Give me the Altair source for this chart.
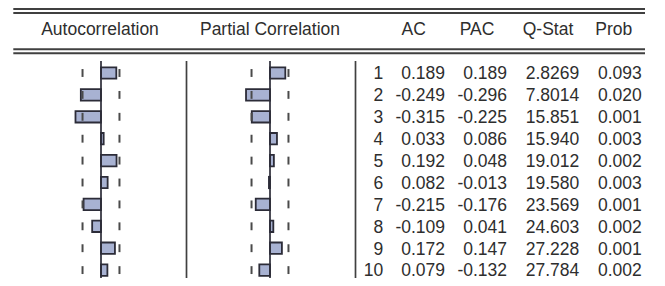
import altair as alt
import pandas as pd

# ---------------- data ----------------
lags = [1, 2, 3, 4, 5, 6, 7, 8, 9, 10]
ac = [0.189, -0.249, -0.315, 0.033, 0.192, 0.082, -0.215, -0.109, 0.172, 0.079]
pac = [0.189, -0.296, -0.225, 0.086, 0.048, -0.013, -0.176, 0.041, 0.147, -0.132]
qstat = [2.8269, 7.8014, 15.851, 15.940, 19.012, 19.580, 23.569, 24.603, 27.228, 27.784]
prob = [0.093, 0.020, 0.001, 0.003, 0.002, 0.003, 0.001, 0.002, 0.001, 0.002]
conf_bound = 0.228  # +/- 2 standard-error band
headers = ["Autocorrelation", "Partial Correlation", "AC", "PAC", "Q-Stat", "Prob"]

# ---------------- layout / style ----------------
W, H = 649, 270
PX_PER_UNIT = 81.0
ACF_ZERO = 93.0
PACF_ZERO = 262.0
ROW1_Y = 65.0
ROW_STEP = 21.9
BAR_HALF = 0.26
DASH_HALF = 0.18
FONT = "Liberation Sans"
FSIZE = 17.5
TXT = "#2e2e2e"
LINE = "#404040"
BAR_FILL = "#A8B2D2"
BAR_STROKE = "#2c2c38"

header_x = [92, 262, 405.7, 469, 540, 605.8]
header_y = 27
col_right_x = [375.3, 437, 499, 571.3, 633.7]
hlines_y = [1, 5, 41.3, 45.3]
vsep_x = [178.5, 347.5]
vline_top, vline_bottom = 53, 270

y_scale = alt.Scale(
    domain=[1 - ROW1_Y / ROW_STEP, 1 + (H - ROW1_Y) / ROW_STEP],
    reverse=True, nice=False, zero=False,
)


def x_scale(zero_px):
    return alt.Scale(domain=[-zero_px / PX_PER_UNIT, (W - zero_px) / PX_PER_UNIT],
                     nice=False, zero=False)


def fmt_q(q):
    d = len(str(int(q)))
    return f"{q:.{5 - d}f}"


dummy = pd.DataFrame({"a": [0]})
layers = []

# horizontal double rules
for yy in hlines_y:
    layers.append(
        alt.Chart(dummy).mark_rule(color=LINE, strokeWidth=2).encode(
            x=alt.value(5.3), x2=alt.value(637), y=alt.value(yy)
        )
    )
# vertical separators
for xx in vsep_x:
    layers.append(
        alt.Chart(dummy).mark_rule(color=LINE, strokeWidth=1.7).encode(
            x=alt.value(xx), y=alt.value(vline_top), y2=alt.value(vline_bottom)
        )
    )

# headers
for lab, hx in zip(headers, header_x):
    layers.append(
        alt.Chart(pd.DataFrame({"h": [lab]})).mark_text(
            font=FONT, fontSize=FSIZE, color=TXT, align="center", baseline="alphabetic"
        ).encode(x=alt.value(hx), y=alt.value(header_y), text="h:N")
    )

# correlogram panels
for vals, zero_px in [(ac, ACF_ZERO), (pac, PACF_ZERO)]:
    xs = x_scale(zero_px)
    bars = pd.DataFrame({"lag": lags, "value": vals, "base": [0.0] * len(lags)})
    layers.append(
        alt.Chart(bars).transform_calculate(
            y0=f"datum.lag - {BAR_HALF}", y1=f"datum.lag + {BAR_HALF}"
        ).mark_rect(fill=BAR_FILL, stroke=BAR_STROKE, strokeWidth=1.8).encode(
            x=alt.X("value:Q", scale=xs, axis=None),
            x2="base:Q",
            y=alt.Y("y0:Q", scale=y_scale, axis=None),
            y2="y1:Q",
        )
    )
    dashes = pd.DataFrame({
        "lag": lags * 2,
        "b": [-conf_bound] * len(lags) + [conf_bound] * len(lags),
    })
    layers.append(
        alt.Chart(dashes).transform_calculate(
            y0=f"datum.lag - {DASH_HALF}", y1=f"datum.lag + {DASH_HALF}"
        ).mark_rule(color="#4a4a4a", strokeWidth=2).encode(
            x=alt.X("b:Q", scale=xs, axis=None),
            y=alt.Y("y0:Q", scale=y_scale, axis=None),
            y2="y1:Q",
        )
    )
    layers.append(
        alt.Chart(pd.DataFrame({"z": [0.0]})).mark_rule(color=BAR_STROKE, strokeWidth=1.7).encode(
            x=alt.X("z:Q", scale=xs, axis=None),
            y=alt.value(vline_top), y2=alt.value(vline_bottom),
        )
    )

# numeric table
columns = [
    [str(l) for l in lags],
    [f"{v:.3f}" for v in ac],
    [f"{v:.3f}" for v in pac],
    [fmt_q(q) for q in qstat],
    [f"{p:.3f}" for p in prob],
]
for labels, cx in zip(columns, col_right_x):
    df = pd.DataFrame({"lag": lags, "label": labels})
    layers.append(
        alt.Chart(df).mark_text(
            font=FONT, fontSize=FSIZE, color=TXT, align="right",
            baseline="alphabetic", dy=6.3
        ).encode(
            x=alt.value(cx),
            y=alt.Y("lag:Q", scale=y_scale, axis=None),
            text="label:N",
        )
    )

chart = alt.layer(*layers).resolve_scale(x="independent").properties(
    width=W, height=H, padding=0, background="white",
    autosize=alt.AutoSizeParams(type="none"),
).configure_view(stroke=None)

chart.save("out.html", embed_options={"renderer": "svg", "actions": False})
